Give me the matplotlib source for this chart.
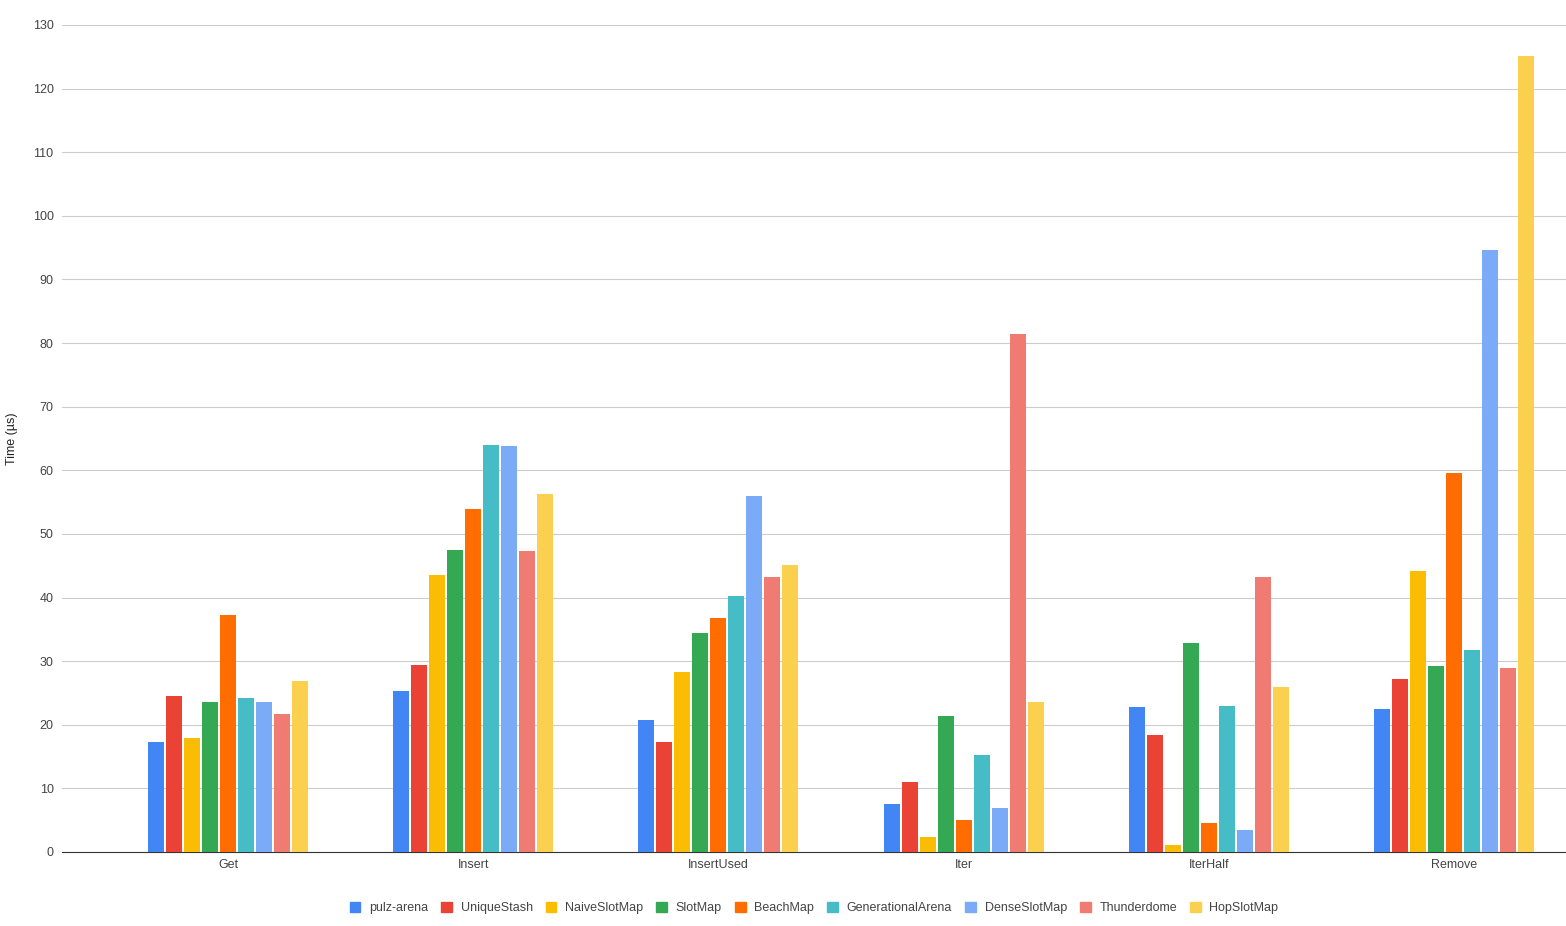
import matplotlib
matplotlib.use("Agg")
import matplotlib.pyplot as plt
import numpy as np

plt.rcParams["font.family"] = ["Liberation Sans", "DejaVu Sans"]

categories = ["Get", "Insert", "InsertUsed", "Iter", "IterHalf", "Remove"]
series = ["pulz-arena", "UniqueStash", "NaiveSlotMap", "SlotMap", "BeachMap",
          "GenerationalArena", "DenseSlotMap", "Thunderdome", "HopSlotMap"]
colors = ["#4285F4", "#EA4335", "#FBBC04", "#34A853", "#FF6D01",
          "#46BDC6", "#7BAAF7", "#F07B72", "#FCD04F"]

pulz_arena = [17.3, 25.3, 20.8, 7.5, 22.8, 22.5]
unique_stash = [24.5, 29.4, 17.3, 11.0, 18.4, 27.2]
naive_slot_map = [17.9, 43.6, 28.3, 2.4, 1.1, 44.2]
slot_map = [23.6, 47.5, 34.4, 21.4, 32.9, 29.2]
beach_map = [37.3, 53.9, 36.8, 5.0, 4.6, 59.6]
generational_arena = [24.2, 64.0, 40.3, 15.3, 23.0, 31.8]
dense_slot_map = [23.6, 63.8, 56.0, 6.9, 3.5, 94.7]
thunderdome = [21.7, 47.3, 43.2, 81.4, 43.2, 28.9]
hop_slot_map = [26.9, 56.3, 45.1, 23.6, 25.9, 125.2]

values = [pulz_arena, unique_stash, naive_slot_map, slot_map, beach_map,
          generational_arena, dense_slot_map, thunderdome, hop_slot_map]

fig = plt.figure(figsize=(15.66, 9.26), dpi=100)
ax = fig.add_axes([62 / 1566, 1 - 852 / 926, 1504 / 1566, 827 / 926])

x = np.arange(len(categories))
step = 0.0734
width = 0.065
for i, (name, vals, c) in enumerate(zip(series, values, colors)):
    off = (i - (len(series) - 1) / 2) * step
    ax.bar(x + off, vals, width=width, color=c, label=name, zorder=3)

ax.set_xlim(-0.677, 5.457)
ax.set_ylim(0, 130)
ax.set_yticks(np.arange(0, 131, 10))
ax.set_xticks(x)
ax.set_xticklabels(categories)
ax.tick_params(axis="both", length=0, labelsize=9, colors="#444444")
ax.tick_params(axis="y", pad=6)
ax.tick_params(axis="x", pad=5)
ax.grid(axis="y", color="#cccccc", linewidth=0.8, zorder=0)
for s in ["top", "right", "left"]:
    ax.spines[s].set_visible(False)
ax.spines["bottom"].set_color("#333333")
ax.set_ylabel("Time (µs)", fontsize=9, color="#222222")
ax.yaxis.set_label_coords(-44 / 1504, 0.5)

handles = [plt.Rectangle((0, 0), 1, 1, color=c) for c in colors]
fig.legend(handles, series, loc="center", bbox_to_anchor=(814 / 1566, 1 - 908 / 926),
           ncol=len(series), frameon=False, fontsize=9, handlelength=0.85,
           handleheight=0.85, handletextpad=0.7, columnspacing=1.05,
           labelcolor="#444444")

fig.savefig("out.png", dpi=100)
